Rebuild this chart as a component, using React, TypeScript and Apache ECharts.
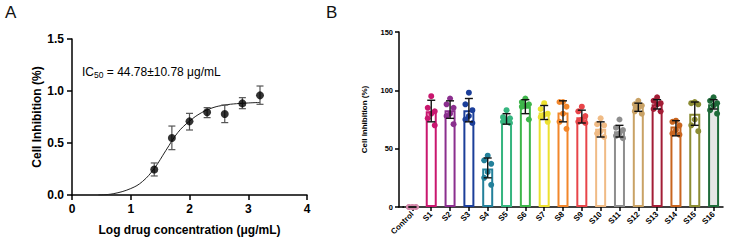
import React, { useEffect, useRef } from "react";
import * as echarts from "echarts";

// ---------- Panel A data ----------
const doseLog = [1.4, 1.7, 2.0, 2.3, 2.6, 2.9, 3.2];
const inhibMean = [0.245, 0.548, 0.708, 0.795, 0.779, 0.881, 0.958];
const inhibLow = [0.183, 0.436, 0.625, 0.744, 0.696, 0.83, 0.872];
const inhibHigh = [0.308, 0.663, 0.785, 0.84, 0.865, 0.936, 1.048];
// fitted curve
const fitX = [0.45, 0.7, 1.0, 1.2, 1.4, 1.6, 1.8, 2.0, 2.2, 2.4, 2.6, 2.8, 3.0, 3.2];
const fitY = [0.0, 0.012, 0.062, 0.13, 0.255, 0.43, 0.6, 0.71, 0.79, 0.84, 0.865, 0.878, 0.885, 0.89];

// ---------- Panel B data ----------
const groups = ["Control", "S1", "S2", "S3", "S4", "S5", "S6", "S7", "S8", "S9", "S10", "S11", "S12", "S13", "S14", "S15", "S16"];
const groupMean = [0, 82, 83, 83, 33, 75, 86, 81, 81, 77, 67, 65, 86, 88, 69, 80, 88];
const groupLow = [0, 73, 76, 73, 25, 71, 80, 75, 73, 72, 60, 60, 82, 84, 61, 70, 84];
const groupHigh = [0, 91.5, 91, 93, 42, 80, 92, 87, 91, 83, 73, 70, 89, 92, 74, 90, 92];
const groupDots = [
  [0, 0, 0, 0, 0, 0],
  [95, 85, 82, 80, 76, 70],
  [93, 88, 85, 80, 78, 71],
  [98, 88, 83, 78, 75, 72],
  [44, 40, 37, 30, 25, 19],
  [83, 77, 76, 74, 73, 72],
  [93, 90, 88, 87, 86, 75],
  [89, 84, 80, 79, 77, 73],
  [90, 90, 86, 80, 73, 67],
  [86, 82, 78, 75, 73, 72],
  [76, 71, 70, 65, 63, 60],
  [75, 68, 66, 63, 61, 59],
  [91, 88, 87, 85, 82, 80],
  [94, 91, 89, 88, 84, 82],
  [74, 73, 70, 66, 63, 62],
  [90, 89, 88, 75, 70, 65],
  [94, 91, 89, 87, 83, 80],
];
const groupColors = [
  "#d488aa", "#c9176f", "#8b2f8e", "#1c3f9a", "#23809a", "#35b57f", "#3db54a", "#ece030",
  "#f2862a", "#e8454a", "#f0bb85", "#8e8e8e", "#c9a265", "#a31d36", "#c8651f", "#8c8c33", "#1f6b3a",
];
const groupFills = groups.map((g) => (g === "S16" ? "#e6e6e6" : "#ffffff"));

const FONT = "'Liberation Sans', Arial, sans-serif";
const dotOffsets = [0, -3.5, 3.5, 0, -3.5, 3.5];

export default function App() {
  const ref = useRef<HTMLDivElement>(null);
  useEffect(() => {
    if (!ref.current) return;
    const chart = echarts.init(ref.current, null, { renderer: "svg" });

    const errA = doseLog.map((x, i) => [x, inhibLow[i], inhibHigh[i]]);
    const errB = groups.map((_, i) => [i, groupLow[i], groupHigh[i]]);
    const dotsB: number[][] = [];
    groupDots.forEach((arr, gi) => arr.forEach((v, k) => dotsB.push([gi, v, k])));

    const errRender = (capHalf: number, color: string, width: number) => (params: any, api: any) => {
      const x = api.value(0);
      const lo = api.coord([x, api.value(1)]);
      const hi = api.coord([x, api.value(2)]);
      return {
        type: "group",
        children: [
          { type: "line", shape: { x1: lo[0], y1: lo[1], x2: hi[0], y2: hi[1] }, style: { stroke: color, lineWidth: width } },
          { type: "line", shape: { x1: lo[0] - capHalf, y1: lo[1], x2: lo[0] + capHalf, y2: lo[1] }, style: { stroke: color, lineWidth: width } },
          { type: "line", shape: { x1: hi[0] - capHalf, y1: hi[1], x2: hi[0] + capHalf, y2: hi[1] }, style: { stroke: color, lineWidth: width } },
        ],
      };
    };

    const axisCommon = {
      axisLine: { show: true, lineStyle: { color: "#000", width: 1.5 } },
      axisTick: { show: true, length: 5, lineStyle: { color: "#000", width: 1.5 } },
      splitLine: { show: false },
    };

    chart.setOption({
      animation: false,
      backgroundColor: "#ffffff",
      textStyle: { fontFamily: FONT },
      grid: [
        { left: 72, top: 39, width: 235, height: 156 },
        { left: 403, top: 32, width: 320, height: 175 },
      ],
      xAxis: [
        {
          gridIndex: 0, type: "value", min: 0, max: 4, interval: 1, ...axisCommon,
          axisLabel: { color: "#000", fontWeight: "bold", fontSize: 12, fontFamily: FONT, margin: 8 },
          name: "Log drug concentration (μg/mL)", nameLocation: "middle", nameGap: 29,
          nameTextStyle: { color: "#000", fontWeight: "bold", fontSize: 12, fontFamily: FONT },
        },
        {
          gridIndex: 1, type: "category", data: groups, ...axisCommon,
          axisTick: { show: true, alignWithLabel: true, length: 4, lineStyle: { color: "#000", width: 1.5 } },
          axisLabel: { color: "#000", fontWeight: "bold", fontSize: 8, fontFamily: FONT, rotate: 45, interval: 0, margin: 6 },
        },
      ],
      yAxis: [
        {
          gridIndex: 0, type: "value", min: 0, max: 1.5, interval: 0.5, ...axisCommon,
          axisLabel: { color: "#000", fontWeight: "bold", fontSize: 12, fontFamily: FONT, margin: 8, formatter: (v: number) => v.toFixed(1) },
          name: "Cell Inhibition (%)", nameLocation: "middle", nameGap: 29,
          nameTextStyle: { color: "#000", fontWeight: "bold", fontSize: 12, fontFamily: FONT },
        },
        {
          gridIndex: 1, type: "value", min: 0, max: 150, interval: 50, offset: 4, ...axisCommon,
          axisTick: { show: true, length: 4, lineStyle: { color: "#000", width: 1.5 } },
          axisLabel: { color: "#000", fontWeight: "bold", fontSize: 7.5, fontFamily: FONT, margin: 6 },
          name: "Cell Inhibition (%)", nameLocation: "middle", nameGap: 31,
          nameTextStyle: { color: "#000", fontWeight: "bold", fontSize: 8, fontFamily: FONT },
        },
      ],
      series: [
        {
          type: "line", xAxisIndex: 0, yAxisIndex: 0, smooth: 0.4, showSymbol: false,
          data: fitX.map((x, i) => [x, fitY[i]]),
          lineStyle: { color: "#222", width: 1 }, z: 2,
        },
        {
          type: "custom", xAxisIndex: 0, yAxisIndex: 0, data: errA,
          renderItem: errRender(3.5, "#555", 1.2), z: 3,
        },
        {
          type: "scatter", xAxisIndex: 0, yAxisIndex: 0, symbolSize: 8,
          data: doseLog.map((x, i) => [x, inhibMean[i]]),
          itemStyle: { color: "#000" }, z: 4,
        },
        {
          type: "bar", xAxisIndex: 1, yAxisIndex: 1, barWidth: 11,
          data: groupMean.map((v, i) => ({
            value: v,
            itemStyle: { color: groupFills[i], borderColor: groupColors[i], borderWidth: 2 },
          })),
          z: 2,
        },
        {
          type: "custom", xAxisIndex: 1, yAxisIndex: 1, data: dotsB, z: 3,
          renderItem: (params: any, api: any) => {
            const gi = api.value(0);
            const k = api.value(2);
            const p = api.coord([gi, api.value(1)]);
            return {
              type: "circle",
              shape: { cx: p[0] + dotOffsets[k % dotOffsets.length], cy: p[1], r: 3 },
              style: { fill: groupColors[gi] },
            };
          },
        },
        {
          type: "custom", xAxisIndex: 1, yAxisIndex: 1, data: errB,
          renderItem: errRender(4, "#111", 1.4), z: 4,
        },
      ],
      graphic: [
        { type: "text", left: 5, top: 4, style: { text: "A", font: `17px ${FONT}`, fill: "#111" } },
        { type: "text", left: 326, top: 4, style: { text: "B", font: `17px ${FONT}`, fill: "#111" } },
        {
          type: "text", x: 82, y: 72,
          style: {
            text: "{n|IC}{s|50}{n| = 44.78±10.78 μg/mL}",
            verticalAlign: "middle",
            rich: {
              n: { fontSize: 12, fontFamily: FONT, fill: "#000", color: "#000" },
              s: { fontSize: 8.5, fontFamily: FONT, fill: "#000", color: "#000", verticalAlign: "bottom", padding: [5, 0, 0, 0] },
            },
          },
        },
        { type: "line", shape: { x1: 398.5, y1: 207, x2: 404, y2: 207 }, style: { stroke: "#000", lineWidth: 1.5 } },
      ],
    });
    return () => chart.dispose();
  }, []);
  return <div ref={ref} style={{ position: "absolute", left: 0, top: 0, width: 732, height: 245 }} />;
}
